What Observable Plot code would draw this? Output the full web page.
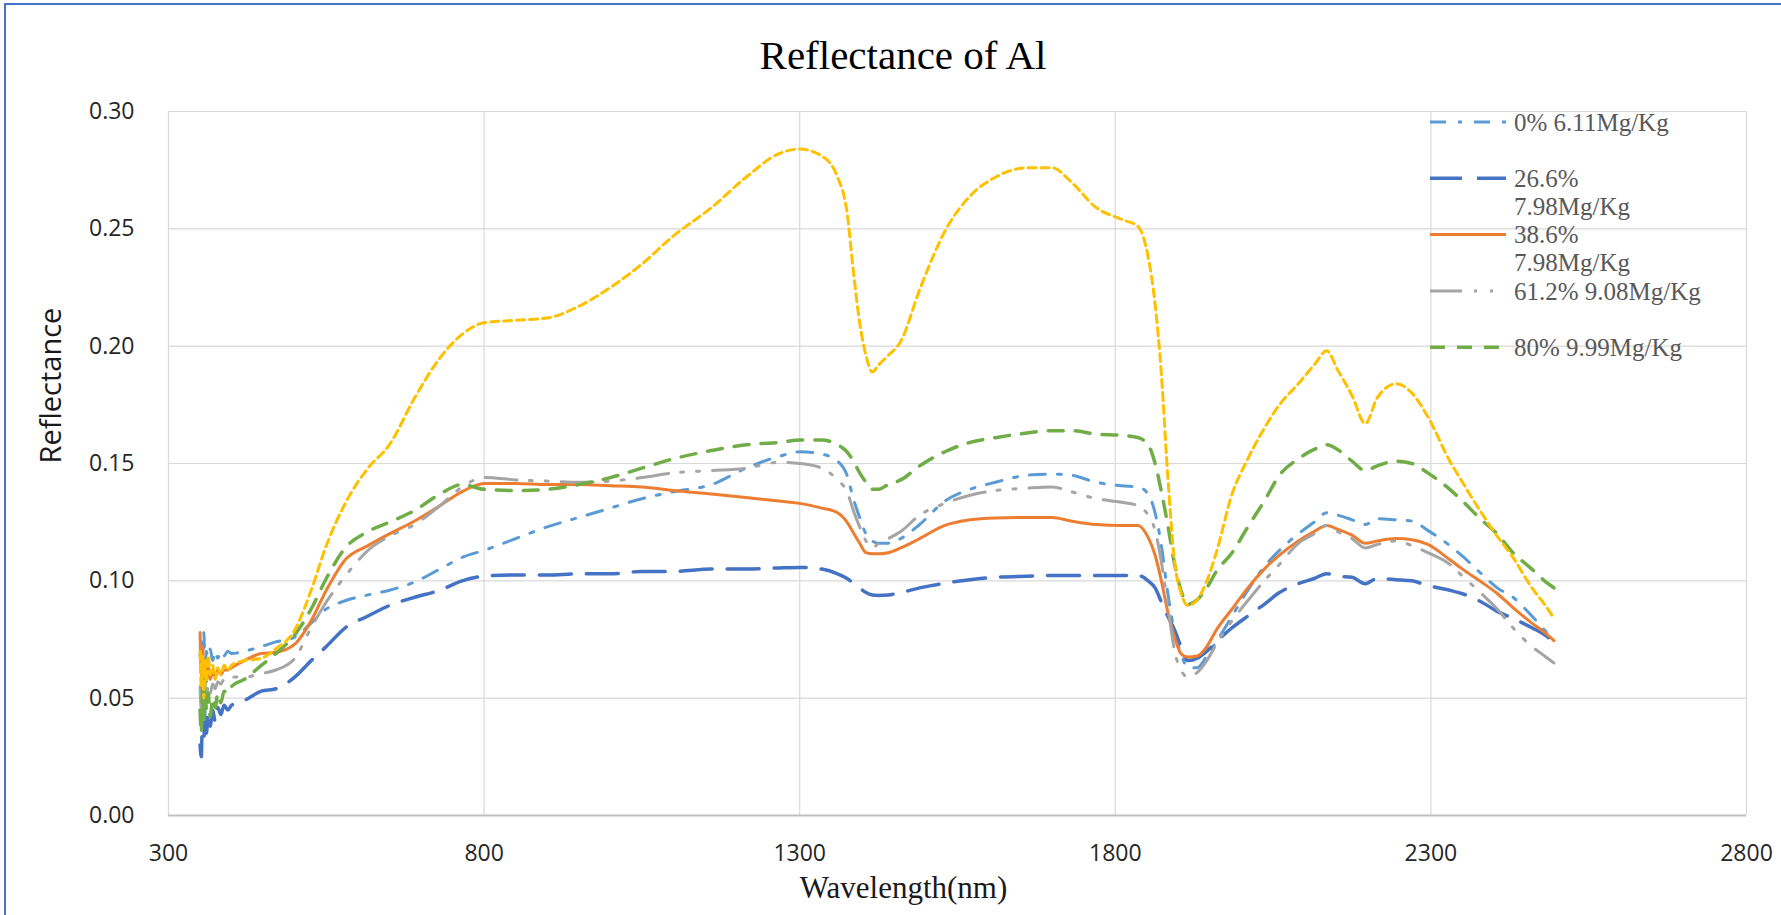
<!DOCTYPE html>
<html>
<head>
<meta charset="utf-8">
<script src="https://cdn.jsdelivr.net/npm/d3@7"></script>
<script src="https://cdn.jsdelivr.net/npm/@observablehq/plot@0.6"></script>
<style>
  body { margin: 0; background: #fff; }
  #wrap { position: relative; width: 1781px; height: 915px; overflow: hidden; background: #fff; }
  #frame { position: absolute; left: 4px; top: 3px; width: 1850px; height: 1000px;
           border-top: 2px solid #4472C4; border-left: 2px solid #4472C4; pointer-events: none; }
  #title { position: absolute; left: 0; top: 33px; width: 1806px; text-align: center;
           font-family: "Liberation Serif", serif; font-size: 41px; line-height: 44px; color: #000; }
  #chart { position: absolute; left: 0; top: 90px; }
  #legend { position: absolute; left: 0; top: 0; pointer-events: none; }
</style>
</head>
<body>
<div id="wrap">
  <div id="title">Reflectance of Al</div>
  <div id="chart"></div>
  <div id="frame"></div>
</div>
<script>
// Wavelength samples (nm); the dense run at the start carries the detector noise
const wavelength = [
  350, 352, 354, 356, 358, 360, 363, 366, 370, 374, 378, 383, 388, 394, 400,
  420, 447, 470, 500, 526, 550, 580, 616, 650, 690,
  730, 765, 800, 850, 900, 950, 1000, 1050, 1100, 1160,
  1215, 1267, 1300, 1335, 1360, 1375, 1385, 1395, 1405, 1415,
  1425, 1440, 1460, 1490, 1530, 1570, 1610, 1660, 1700, 1730,
  1770, 1810, 1836, 1852, 1863, 1873, 1883, 1894, 1904, 1915,
  1930, 1945, 1960, 1985, 2010, 2036, 2060, 2090, 2115, 2135,
  2152, 2175, 2196, 2215, 2245, 2270, 2295, 2330, 2350, 2380,
  2405, 2430, 2460, 2480, 2495
];

// Reflectance per sample, one array per series
const r0 = [
  0.068, 0.074, 0.060, 0.078, 0.062, 0.070, 0.064, 0.071, 0.066, 0.070, 0.067, 0.070, 0.068, 0.070, 0.069,
  0.070, 0.072, 0.074, 0.076, 0.082, 0.088, 0.0915, 0.094, 0.096, 0.0995,
  0.105, 0.110, 0.113, 0.118, 0.123, 0.127, 0.131, 0.135, 0.138, 0.141,
  0.148, 0.153, 0.155, 0.154, 0.151, 0.145, 0.135, 0.127, 0.120, 0.117,
  0.116, 0.116, 0.118, 0.124, 0.134, 0.139, 0.142, 0.145, 0.1455, 0.145,
  0.142, 0.1405, 0.140, 0.137, 0.129, 0.115, 0.095, 0.078, 0.069, 0.063,
  0.063, 0.068, 0.074, 0.085, 0.096, 0.106, 0.113, 0.120, 0.125, 0.129,
  0.128, 0.126, 0.124, 0.1265, 0.126, 0.1255, 0.1215, 0.115, 0.1105, 0.103,
  0.097, 0.093, 0.085, 0.079, 0.075
];
const r266 = [
  0.030, 0.025, 0.045, 0.032, 0.048, 0.035, 0.044, 0.038, 0.045, 0.040, 0.046, 0.043, 0.047, 0.045, 0.047,
  0.049, 0.053, 0.054, 0.059, 0.066, 0.072, 0.080, 0.085, 0.0895, 0.093,
  0.096, 0.100, 0.102, 0.1025, 0.1025, 0.103, 0.103, 0.104, 0.104, 0.105,
  0.105, 0.1055, 0.1057, 0.105, 0.103, 0.101, 0.099, 0.097, 0.095, 0.094,
  0.0938, 0.094, 0.095, 0.097, 0.099, 0.1005, 0.1015, 0.102, 0.1023, 0.1023,
  0.1023, 0.1023, 0.1023, 0.100, 0.097, 0.091, 0.085, 0.079, 0.072, 0.066,
  0.067, 0.070, 0.074, 0.080, 0.085, 0.090, 0.095, 0.0988, 0.101, 0.103,
  0.102, 0.1015, 0.0988, 0.101, 0.1005, 0.100, 0.098, 0.096, 0.0945, 0.091,
  0.087, 0.084, 0.080, 0.077, 0.074
];
const r386 = [
  0.078, 0.060, 0.072, 0.058, 0.066, 0.057, 0.064, 0.058, 0.062, 0.059, 0.062, 0.060, 0.062, 0.062, 0.063,
  0.066, 0.069, 0.0695, 0.073, 0.083, 0.096, 0.109, 0.115, 0.120, 0.1255,
  0.132, 0.138, 0.1415, 0.1415, 0.141, 0.141, 0.1405, 0.140, 0.1385, 0.137,
  0.1355, 0.134, 0.133, 0.131, 0.129, 0.125, 0.1205, 0.116, 0.112, 0.1115,
  0.1115, 0.112, 0.114, 0.118, 0.1236, 0.126, 0.1268, 0.127, 0.127, 0.1255,
  0.124, 0.1236, 0.1236, 0.1185, 0.111, 0.100, 0.087, 0.076, 0.069, 0.0675,
  0.068, 0.072, 0.079, 0.088, 0.097, 0.105, 0.111, 0.117, 0.121, 0.1236,
  0.122, 0.1195, 0.116, 0.117, 0.118, 0.1175, 0.1155, 0.109, 0.105, 0.0995,
  0.0946, 0.0886, 0.082, 0.078, 0.0745
];
const r612 = [
  0.055, 0.045, 0.060, 0.048, 0.058, 0.050, 0.056, 0.052, 0.056, 0.054, 0.057, 0.056, 0.058, 0.058, 0.059,
  0.059, 0.0605, 0.062, 0.067, 0.080, 0.091, 0.102, 0.113, 0.119, 0.124,
  0.132, 0.140, 0.144, 0.143, 0.1425, 0.142, 0.1425, 0.144, 0.146, 0.147,
  0.148, 0.1505, 0.150, 0.148, 0.143, 0.138, 0.130, 0.123, 0.117, 0.114,
  0.116, 0.118, 0.121, 0.128, 0.133, 0.1365, 0.1385, 0.1395, 0.140, 0.138,
  0.135, 0.1335, 0.132, 0.128, 0.1215, 0.108, 0.090, 0.070, 0.062, 0.059,
  0.061, 0.066, 0.073, 0.083, 0.0916, 0.100, 0.107, 0.116, 0.120, 0.1236,
  0.121, 0.118, 0.114, 0.1155, 0.117, 0.115, 0.112, 0.107, 0.102, 0.0946,
  0.088, 0.080, 0.072, 0.068, 0.065
];
const r80 = [
  0.045, 0.035, 0.055, 0.040, 0.058, 0.045, 0.052, 0.042, 0.050, 0.046, 0.052, 0.048, 0.053, 0.052, 0.055,
  0.058, 0.064, 0.069, 0.077, 0.088, 0.101, 0.114, 0.121, 0.125, 0.130,
  0.137, 0.141, 0.139, 0.1385, 0.139, 0.141, 0.144, 0.148, 0.152, 0.1555,
  0.158, 0.159, 0.160, 0.160, 0.158, 0.155, 0.151, 0.146, 0.142, 0.139,
  0.139, 0.141, 0.143, 0.149, 0.155, 0.159, 0.161, 0.163, 0.164, 0.164,
  0.1625, 0.162, 0.161, 0.158, 0.150, 0.138, 0.124, 0.107, 0.096, 0.090,
  0.092, 0.097, 0.104, 0.112, 0.123, 0.134, 0.145, 0.152, 0.156, 0.158,
  0.156, 0.151, 0.147, 0.149, 0.151, 0.150, 0.146, 0.139, 0.134, 0.126,
  0.120, 0.112, 0.105, 0.100, 0.097
];
// Sixth series: plotted without a legend entry
const rUnlisted = [
  0.070, 0.055, 0.068, 0.050, 0.066, 0.057, 0.068, 0.060, 0.064, 0.058, 0.063, 0.060, 0.064, 0.062, 0.064,
  0.066, 0.067, 0.071, 0.079, 0.096, 0.115, 0.133, 0.148, 0.158, 0.178,
  0.195, 0.205, 0.210, 0.211, 0.212, 0.217, 0.225, 0.235, 0.247, 0.259,
  0.272, 0.282, 0.284, 0.281, 0.272, 0.257, 0.232, 0.210, 0.196, 0.189,
  0.192, 0.196, 0.202, 0.224, 0.249, 0.264, 0.272, 0.276, 0.276, 0.270,
  0.259, 0.254, 0.251, 0.238, 0.218, 0.188, 0.145, 0.108, 0.095, 0.0895,
  0.092, 0.100, 0.112, 0.137, 0.152, 0.165, 0.175, 0.184, 0.192, 0.198,
  0.190, 0.179, 0.167, 0.178, 0.184, 0.180, 0.170, 0.151, 0.142, 0.129,
  0.119, 0.110, 0.097, 0.090, 0.084
];

const xTicks = [300, 800, 1300, 1800, 2300, 2800];
const yTicks = [0, 0.05, 0.10, 0.15, 0.20, 0.25, 0.30];

// Series styling, in drawing order
const series = [
  {legend: ["0%  6.11Mg/Kg"],      values: r0,        color: "#5B9BD5", width: 3,   dash: "16,12,4,12"},
  {legend: ["26.6%", "7.98Mg/Kg"], values: r266,      color: "#4472C4", width: 3.5, dash: "32,15"},
  {legend: ["38.6%", "7.98Mg/Kg"], values: r386,      color: "#ED7D31", width: 3,   dash: null},
  {legend: ["61.2% 9.08Mg/Kg"],    values: r612,      color: "#A5A5A5", width: 3,   dash: "32,12,3,13,3,13"},
  {legend: ["80% 9.99Mg/Kg"],      values: r80,       color: "#70AD47", width: 3.5, dash: "15,12"},
  {legend: null,                   values: rUnlisted, color: "#FFC000", width: 3,   dash: "8,5"}
];

const lineMarks = series.map(s =>
  Plot.line(wavelength.map((w, i) => ({wl: w, r: s.values[i]})), {
    x: "wl", y: "r",
    stroke: s.color,
    strokeWidth: s.width,
    strokeDasharray: s.dash || undefined,
    curve: "monotone-x"
  })
);

const tickFont = {fontFamily: "'Open Sans', sans-serif", fontSize: 23};

const chart = Plot.plot({
  width: 1781,
  height: 825,
  marginLeft: 168,
  marginRight: 35,
  marginTop: 21,
  marginBottom: 100,
  style: {background: "transparent", color: "#333", fontFamily: "'Open Sans', sans-serif"},
  x: {domain: [300, 2800], ticks: xTicks},
  y: {domain: [0, 0.30], ticks: yTicks},
  marks: [
    Plot.gridX(xTicks, {stroke: "#d9d9d9", strokeOpacity: 1, strokeWidth: 1.2}),
    Plot.gridY(yTicks, {stroke: "#d9d9d9", strokeOpacity: 1, strokeWidth: 1.2}),
    Plot.ruleY([0], {stroke: "#bfbfbf", strokeWidth: 2.2}),
    Plot.axisX(xTicks, {tickSize: 0, tickPadding: 29, label: null, tickFormat: d3.format("d"), ...tickFont, fill: "#262626"}),
    Plot.axisY(yTicks, {tickSize: 0, tickPadding: 34, label: null, tickFormat: d3.format(".2f"), ...tickFont, fill: "#262626"}),
    ...lineMarks,
    Plot.text(["Reflectance"], {
      frameAnchor: "left", dx: -117, rotate: -90,
      fontFamily: "'Open Sans', sans-serif", fontSize: 29, fill: "#1a1a1a"
    }),
    Plot.text(["Wavelength(nm)"], {
      frameAnchor: "bottom", dx: -54, dy: 82,
      fontFamily: "'Liberation Serif', serif", fontSize: 31, fill: "#1a1a1a"
    })
  ]
});
document.getElementById("chart").appendChild(chart);

// Legend in the upper right corner of the plot area
const legendSeries = series.filter(s => s.legend);
const legendSvg = d3.select("#wrap").append("svg")
  .attr("id", "legend")
  .attr("width", 1781).attr("height", 915);
const rowTop = 122, rowStep = 56.3, lineStep = 28.1;
legendSeries.forEach((s, i) => {
  const y = rowTop + i * rowStep;
  legendSvg.append("line")
    .attr("x1", 1430).attr("x2", 1506).attr("y1", y).attr("y2", y)
    .attr("stroke", s.color).attr("stroke-width", s.width)
    .attr("stroke-dasharray", s.dash || null);
  s.legend.forEach((txt, j) => {
    legendSvg.append("text")
      .attr("x", 1514).attr("y", y + j * lineStep)
      .attr("dy", "0.35em")
      .attr("font-family", "'Liberation Serif', serif")
      .attr("font-size", 25)
      .attr("fill", "#595959")
      .text(txt);
  });
});
</script>
</body>
</html>
